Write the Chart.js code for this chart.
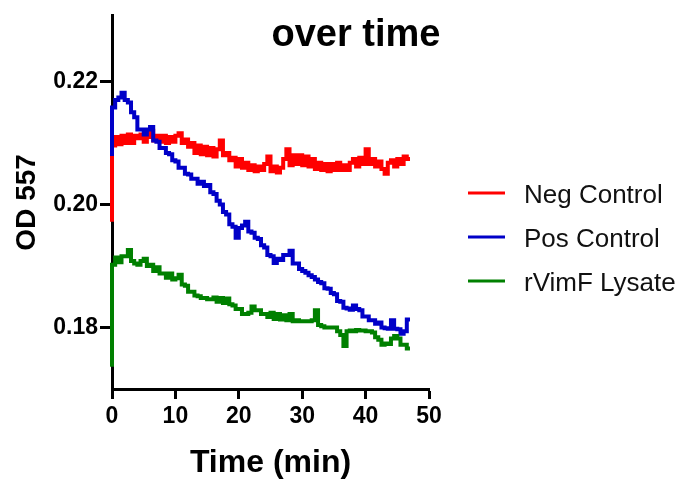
<!DOCTYPE html>
<html>
<head>
<meta charset="utf-8">
<script src="https://cdn.jsdelivr.net/npm/chart.js@4/dist/chart.umd.min.js"></script>
<style>
  html, body { margin: 0; padding: 0; background: #fff; }
  #chart1 { display: block; }
</style>
</head>
<body>
<canvas id="chart1" width="689" height="485"></canvas>
<script>
const chartTitle = "over time";
const seriesNames = ["Neg Control", "Pos Control", "rVimF Lysate"];
const seriesColors = ["#FF0000", "#0000C8", "#008000"];

const minutes = [
  0, 0.5, 1, 1.5, 2, 2.5, 3, 3.5, 4, 4.5,
  5, 5.5, 6, 6.5, 7, 7.5, 8, 8.5, 9, 9.5,
  10, 10.5, 11, 11.5, 12, 12.5, 13, 13.5, 14, 14.5,
  15, 15.5, 16, 16.5, 17, 17.5, 18, 18.5, 19, 19.5,
  20, 20.5, 21, 21.5, 22, 22.5, 23, 23.5, 24, 24.5,
  25, 25.5, 26, 26.5, 27, 27.5, 28, 28.5, 29, 29.5,
  30, 30.5, 31, 31.5, 32, 32.5, 33, 33.5, 34, 34.5,
  35, 35.5, 36, 36.5, 37, 37.5, 38, 38.5, 39, 39.5,
  40, 40.5, 41, 41.5, 42, 42.5, 43, 43.5, 44, 44.5,
  45, 45.5, 46, 46.5, 47
];

const negControl = [
  0.1972, 0.2096, 0.2110, 0.2098, 0.2112, 0.2100, 0.2114, 0.2100, 0.2112, 0.2108,
  0.2114, 0.2102, 0.2110, 0.2120, 0.2104, 0.2112, 0.2102, 0.2112, 0.2100, 0.2110,
  0.2102, 0.2112, 0.2116, 0.2100, 0.2106, 0.2094, 0.2100, 0.2084, 0.2096, 0.2082,
  0.2094, 0.2080, 0.2092, 0.2078, 0.2090, 0.2104, 0.2080, 0.2084, 0.2072, 0.2076,
  0.2062, 0.2074, 0.2060, 0.2068, 0.2056, 0.2064, 0.2054, 0.2062, 0.2056, 0.2066,
  0.2078, 0.2054, 0.2062, 0.2052, 0.2060, 0.2074, 0.2090, 0.2064, 0.2080, 0.2066,
  0.2080, 0.2064, 0.2078, 0.2062, 0.2074, 0.2058, 0.2068, 0.2056, 0.2066, 0.2054,
  0.2066, 0.2056, 0.2068, 0.2056, 0.2064, 0.2056, 0.2068, 0.2074, 0.2062, 0.2076,
  0.2066, 0.2090, 0.2066, 0.2074, 0.2062, 0.2070, 0.2058, 0.2050, 0.2068, 0.2072,
  0.2062, 0.2074, 0.2066, 0.2078, 0.2074
];

const posControl = [
  0.2079, 0.2158, 0.2170, 0.2174, 0.2182, 0.2170, 0.2166, 0.2150, 0.2142, 0.2122,
  0.2122, 0.2114, 0.2122, 0.2126, 0.2104, 0.2102, 0.2092, 0.2092, 0.2084, 0.2082,
  0.2072, 0.2070, 0.2060, 0.2060, 0.2050, 0.2049, 0.2042, 0.2042, 0.2034, 0.2037,
  0.2030, 0.2032, 0.2020, 0.2017, 0.2006, 0.2000, 0.1988, 0.1984, 0.1968, 0.1964,
  0.1946, 0.1962, 0.1966, 0.1972, 0.1956, 0.1954, 0.1946, 0.1944, 0.1934, 0.1930,
  0.1918, 0.1916, 0.1905, 0.1912, 0.1910, 0.1918, 0.1918, 0.1925, 0.1904, 0.1904,
  0.1895, 0.1892, 0.1889, 0.1885, 0.1882, 0.1878, 0.1874, 0.1872, 0.1864, 0.1863,
  0.1856, 0.1854, 0.1843, 0.1842, 0.1832, 0.1831, 0.1829, 0.1836, 0.1830, 0.1828,
  0.1818, 0.1818, 0.1812, 0.1812, 0.1806, 0.1808, 0.1800, 0.1799, 0.1798, 0.1812,
  0.1798, 0.1797, 0.1790, 0.1794, 0.1813
];

const rVimF = [
  0.1736, 0.1902, 0.1914, 0.1906, 0.1916, 0.1916, 0.1926, 0.1908, 0.1904, 0.1902,
  0.1908, 0.1912, 0.1900, 0.1902, 0.1892, 0.1898, 0.1888, 0.1888, 0.1881, 0.1888,
  0.1878, 0.1880, 0.1886, 0.1870, 0.1868, 0.1858, 0.1858, 0.1852, 0.1851, 0.1848,
  0.1848, 0.1846, 0.1846, 0.1849, 0.1842, 0.1848, 0.1840, 0.1847, 0.1838, 0.1836,
  0.1830, 0.1830, 0.1822, 0.1822, 0.1824, 0.1834, 0.1828, 0.1828, 0.1822, 0.1822,
  0.1817, 0.1824, 0.1814, 0.1822, 0.1813, 0.1820, 0.1812, 0.1822, 0.1810, 0.1812,
  0.1810, 0.1810, 0.1810, 0.1810, 0.1812, 0.1828, 0.1804, 0.1802, 0.1800, 0.1800,
  0.1800, 0.1800, 0.1794, 0.1788, 0.1770, 0.1794, 0.1795, 0.1794, 0.1796, 0.1795,
  0.1795, 0.1794, 0.1794, 0.1792, 0.1784, 0.1780, 0.1772, 0.1774, 0.1773, 0.1782,
  0.1786, 0.1782, 0.1772, 0.1772, 0.1766
];

const xTicks = [0, 10, 20, 30, 40, 50];
const yTicks = [0.18, 0.20, 0.22];

const fontFamily = '"Liberation Sans", Arial, sans-serif';

function toPoints(values) {
  return values.map((v, i) => ({ x: minutes[i], y: v }));
}

const allSeries = [negControl, posControl, rVimF];
const drawOrder = [2, 1, 0]; // green on top, red underneath

const datasets = allSeries.map((values, i) => ({
  label: seriesNames[i],
  data: toPoints(values),
  borderColor: seriesColors[i],
  backgroundColor: seriesColors[i],
  borderWidth: 4,
  pointRadius: 0,
  stepped: "after",
  fill: false,
  clip: false,
  order: drawOrder[i],
}));

// title (top line is cut off in the original) and the legend on the right
const overlayText = {
  id: "overlayText",
  afterDraw(chart) {
    const ctx = chart.ctx;
    ctx.save();
    ctx.fillStyle = "#000";
    ctx.font = "bold 38px " + fontFamily;
    ctx.textAlign = "center";
    ctx.textBaseline = "alphabetic";
    ctx.fillText(chartTitle, 356, 46);

    ctx.font = "26px " + fontFamily;
    ctx.textAlign = "left";
    chart.data.datasets.forEach((ds, i) => {
      const y = 193 + i * 44;
      ctx.strokeStyle = ds.borderColor;
      ctx.lineWidth = 3;
      ctx.beginPath();
      ctx.moveTo(468, y);
      ctx.lineTo(505, y);
      ctx.stroke();
      ctx.fillStyle = "#111";
      ctx.fillText(ds.label, 524, y + 9.5);
    });
    ctx.restore();
  },
};

const chart1 = new Chart(document.getElementById("chart1"), {
  type: "line",
  data: { datasets: datasets },
  options: {
    responsive: false,
    animation: false,
    layout: { padding: { top: 7, right: 260, bottom: 0, left: 0 } },
    plugins: {
      legend: { display: false },
      title: { display: false },
      tooltip: { enabled: false },
    },
    scales: {
      x: {
        type: "linear",
        min: 0,
        max: 50,
        afterBuildTicks: (scale) => {
          scale.ticks = xTicks.map((v) => ({ value: v }));
        },
        afterFit: (scale) => {
          scale.height = 96;
        },
        border: { color: "#000", width: 3 },
        grid: {
          drawOnChartArea: false,
          drawTicks: true,
          tickLength: 10,
          tickWidth: 3,
          tickColor: "#000",
        },
        ticks: {
          color: "#000",
          padding: 4,
          maxRotation: 0,
          font: { family: fontFamily, size: 23, weight: "bold" },
        },
        title: {
          display: true,
          text: "Time (min)",
          color: "#000",
          padding: { top: 0, bottom: 3 },
          font: { family: fontFamily, size: 32, weight: "bold" },
        },
      },
      y: {
        min: 0.17,
        max: 0.2307,
        afterBuildTicks: (scale) => {
          scale.ticks = yTicks.map((v) => ({ value: v }));
        },
        afterFit: (scale) => {
          scale.width = 112;
        },
        border: { color: "#000", width: 3 },
        grid: {
          drawOnChartArea: false,
          drawTicks: true,
          tickLength: 12,
          tickWidth: 3,
          tickColor: "#000",
        },
        ticks: {
          color: "#000",
          padding: 2,
          font: { family: fontFamily, size: 23, weight: "bold" },
          callback: (v) => Number(v).toFixed(2),
        },
        title: {
          display: true,
          text: "OD 557",
          color: "#000",
          padding: { top: 10, bottom: 0 },
          font: { family: fontFamily, size: 28, weight: "bold" },
        },
      },
    },
  },
  plugins: [overlayText],
});
</script>
</body>
</html>
